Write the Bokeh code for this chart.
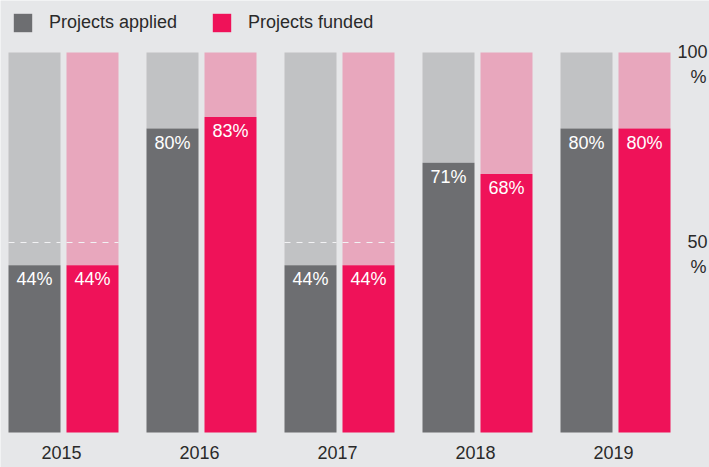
import numpy as np
from bokeh.plotting import figure
from bokeh.models import ColumnDataSource, Range1d, Legend, LegendItem
from bokeh.core.properties import value
from bokeh.embed import file_html
from bokeh.resources import INLINE

# ---- data ----
years = ["2015", "2016", "2017", "2018", "2019"]
applied = [44, 80, 44, 71, 80]
funded = [44, 83, 44, 68, 80]
ref_ticks = [100, 50]
ref_labels = ["100", "50"]
full = 100
half = 50

# ---- styles ----
BG = "#e6e7e9"
DARK = "#6d6e71"
LIGHT = "#c1c2c4"
PINK = "#ef1259"
LPINK = "#e8a7bd"
TXT = "#2a2a2a"
FONT = value("Liberation Sans")

pitch = 138.0
bar_w = 52 / pitch
off = 29 / pitch
px_per_unit = 3.8

W, H = 709, 467
x0 = -63 / pitch
x1 = x0 + W / pitch
y0 = -35 / px_per_unit
y1 = y0 + H / px_per_unit

p = figure(width=W, height=H, x_range=Range1d(x0, x1), y_range=Range1d(y0, y1),
           output_backend="svg", toolbar_location=None, min_border=0,
           x_axis_location=None, y_axis_location=None,
           background_fill_color=BG, border_fill_color=BG, outline_line_color=None)
p.grid.visible = False

idx = np.arange(len(years))
src = ColumnDataSource(dict(
    xa=idx - off, xf=idx + off,
    applied=applied, funded=funded,
    full=[full] * len(years),
    la=[f"{v}%" for v in applied], lf=[f"{v}%" for v in funded],
))

p.vbar(x="xa", width=bar_w, bottom="applied", top="full", source=src,
       fill_color=LIGHT, line_color=None)
ra = p.vbar(x="xa", width=bar_w, bottom=0, top="applied", source=src,
            fill_color=DARK, line_color=None)
p.vbar(x="xf", width=bar_w, bottom="funded", top="full", source=src,
       fill_color=LPINK, line_color=None)
rf = p.vbar(x="xf", width=bar_w, bottom=0, top="funded", source=src,
            fill_color=PINK, line_color=None)

# dashed 50% line on bars whose value is below half
segx0, segx1 = [], []
for i, (a, f) in enumerate(zip(applied, funded)):
    if a < half:
        segx0.append(i - off - bar_w / 2); segx1.append(i - off + bar_w / 2)
    if f < half:
        segx0.append(i + off - bar_w / 2); segx1.append(i + off + bar_w / 2)
p.segment(x0=segx0, x1=segx1, y0=[half] * len(segx0), y1=[half] * len(segx0),
          line_color="#f2f2f4", line_width=1, line_dash="6 6")

# value labels
p.text(x="xa", y="applied", text="la", source=src, text_align="center",
       text_baseline="alphabetic", y_offset=14, text_color="white",
       text_font=FONT, text_font_size="18px")
p.text(x="xf", y="funded", text="lf", source=src, text_align="center",
       text_baseline="alphabetic", y_offset=14, text_color="white",
       text_font=FONT, text_font_size="18px")

# year labels
p.text(x=idx, y=[0] * len(years), text=years, text_align="center",
       text_baseline="alphabetic", y_offset=20, x_offset=-2, text_color=TXT,
       text_font=FONT, text_font_size="18px")

# right reference labels
p.text(x=[x1] * len(ref_ticks), y=ref_ticks, text=ref_labels, text_align="right",
       text_baseline="alphabetic", x_offset=-2, y_offset=-1, text_color=TXT,
       text_font=FONT, text_font_size="18px")
p.text(x=[x1] * len(ref_ticks), y=ref_ticks, text=["%"] * len(ref_ticks),
       text_align="right", text_baseline="alphabetic", x_offset=-3, y_offset=24,
       text_color=TXT, text_font=FONT, text_font_size="18px")

legend = Legend(items=[LegendItem(label="Projects applied", renderers=[ra]),
                       LegendItem(label="Projects funded", renderers=[rf])],
                orientation="horizontal", location="top_left",
                margin=11, padding=0, spacing=33, label_standoff=15,
                glyph_width=23, glyph_height=23,
                label_text_font="Liberation Sans", label_text_font_size="18px",
                label_text_color=TXT, background_fill_alpha=0,
                border_line_color=None)
p.add_layout(legend)

open("out.html", "w").write(file_html(p, INLINE))
